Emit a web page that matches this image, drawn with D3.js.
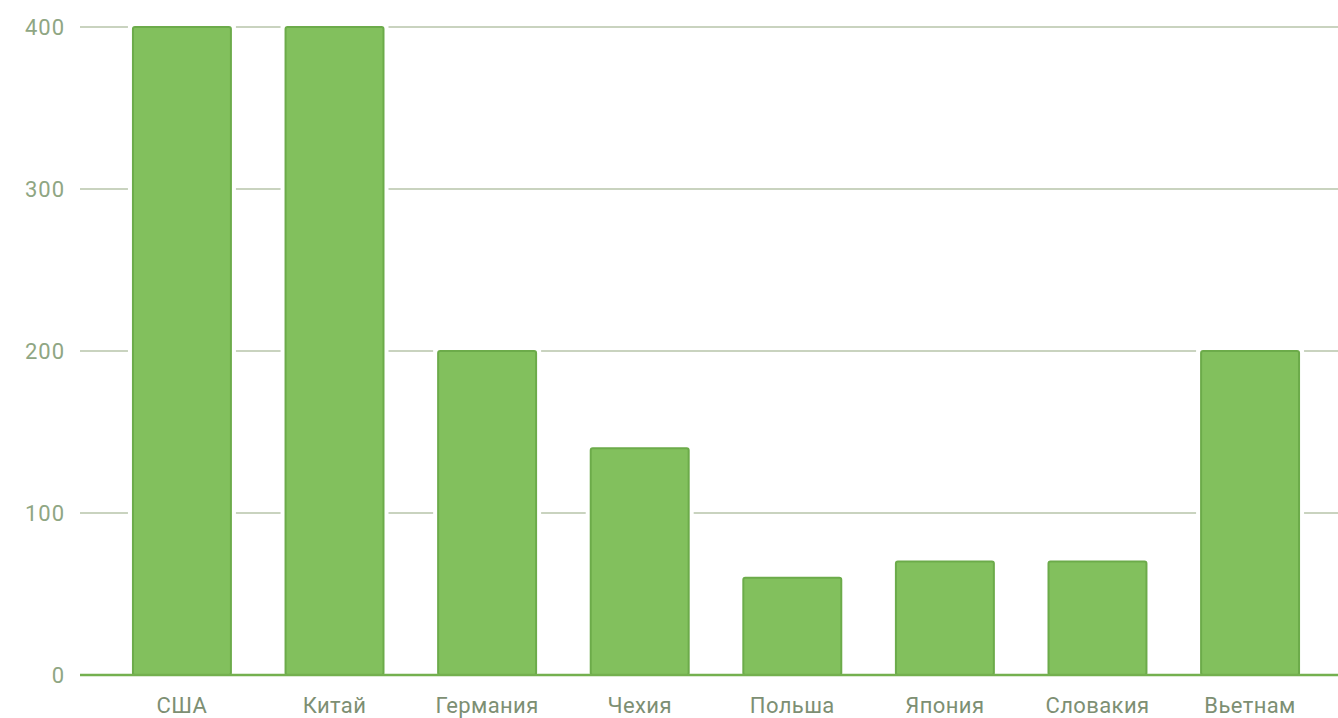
<!DOCTYPE html>
<html><head><meta charset="utf-8">
<script src="https://cdn.jsdelivr.net/npm/d3@7"></script>
<style>body{margin:0;background:#fff;}svg{display:block;}</style>
</head><body>
<svg id="c" width="1338" height="718"></svg>
<script>
const categories = ["США","Китай","Германия","Чехия","Польша","Япония","Словакия","Вьетнам"];
const values = [400,400,200,140,60,70,70,200];
const yTicks = [0,100,200,300,400];

const svg = d3.select("#c");
const x = d3.scaleBand().domain(categories).range([80,1352]).paddingInner(0.358).paddingOuter(0.347);
const y = d3.scaleLinear().domain([0,400]).range([675,27]);

svg.append("g").selectAll("line").data(yTicks.filter(d=>d>0)).join("line")
  .attr("x1",80).attr("x2",1338).attr("y1",d=>y(d)).attr("y2",d=>y(d))
  .attr("stroke","#c9d3bf").attr("stroke-width",2);

svg.append("g").selectAll("text").data(yTicks).join("text")
  .attr("x",65).attr("y",d=>y(d)).attr("dy","0.36em").attr("text-anchor","end")
  .attr("font-family","Roboto, sans-serif").attr("font-size",22).attr("letter-spacing",1)
  .attr("fill","#8fa683")
  .text(d=>d);

// white halo behind bars
svg.append("g").selectAll("rect").data(values).join("rect")
  .attr("x",(d,i)=>x(categories[i])-5).attr("width",x.bandwidth()+10)
  .attr("y",d=>y(d)-4).attr("height",d=>y(0)-y(d)+4)
  .attr("fill","#fff");

svg.append("g").selectAll("rect").data(values).join("rect")
  .attr("x",(d,i)=>x(categories[i])).attr("width",x.bandwidth())
  .attr("y",d=>y(d)).attr("height",d=>y(0)-y(d))
  .attr("rx",2)
  .attr("fill","#82c05d").attr("stroke","#6cab4a").attr("stroke-width",2);

svg.append("line").attr("x1",80).attr("x2",1338).attr("y1",y(0)).attr("y2",y(0))
  .attr("stroke","#74b04f").attr("stroke-width",2.5);

svg.append("g").selectAll("text").data(categories).join("text")
  .attr("x",d=>x(d)+x.bandwidth()/2).attr("y",713).attr("text-anchor","middle")
  .attr("font-family","Roboto, sans-serif").attr("font-size",22).attr("letter-spacing",0.4)
  .attr("fill","#7d8f73")
  .text(d=>d);
</script>
</body></html>
